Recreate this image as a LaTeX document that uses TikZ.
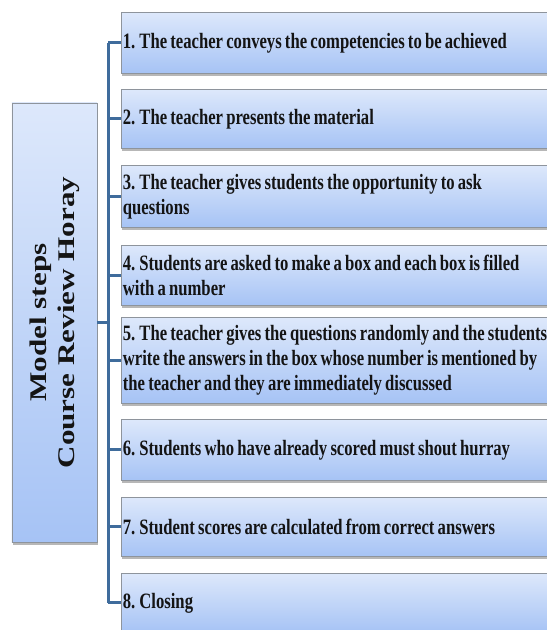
\documentclass[tikz,border=0pt]{standalone}
\usepackage{fontspec}
\setmainfont{Liberation Serif}
\newfontfamily\boxfont[FakeStretch=0.76]{Liberation Serif}
\newfontfamily\sidefont[FakeStretch=1.3]{Liberation Serif}
\newcommand\boxsetup{\boxfont\bfseries\fontsize{22}{25}\selectfont
  \fontdimen2\font=3.2bp\relax
  \fontdimen3\font=1bp\relax
  \fontdimen4\font=0.5bp\relax
  \fontdimen7\font=0.8bp\relax
  \spaceskip=3.2bp plus 1bp minus 0.5bp\relax
  \xspaceskip=4bp\relax
  \hyphenpenalty=10000\relax}
\usetikzlibrary{shadows}
\definecolor{boxtop}{HTML}{DDE8FB}
\definecolor{boxbot}{HTML}{A6C3F5}
\definecolor{boxline}{HTML}{8E949C}
\definecolor{trunkc}{HTML}{3F6C9C}
\definecolor{txt}{HTML}{141414}
\tikzset{
  shade box/.style={draw=boxline, line width=0.8bp, top color=boxtop, bottom color=boxbot,
    drop shadow={shadow xshift=1bp, shadow yshift=-3bp, opacity=0.4, fill=black!70}},
  stepbox/.style={shade box, anchor=north west, text width=480bp, align=left,
    inner xsep=1.5bp, inner ysep=0pt, text=txt, font=\boxsetup,
    execute at begin node=\boxsetup},
  sidebox/.style={shade box, minimum width=85bp, minimum height=439bp, inner sep=0pt, text=txt,
    font=\sidefont\bfseries\fontsize{24}{28}\selectfont},
  conn/.style={draw=trunkc, line width=3bp},
}
\begin{document}
\begin{tikzpicture}[x=1bp,y=-1bp]
\useasboundingbox (0,0) rectangle (547,630);
\clip (0,0) rectangle (547,630);
\fill[white] (0,0) rectangle (547,630);
\node[sidebox] (L) at (54.5,322.5) {\rotatebox{90}{\begin{tabular}{@{}c@{}}Model steps\\Course Review Horay\end{tabular}}};
\node[stepbox, minimum height=61bp] (b1) at (121,12) {1. The teacher conveys the competencies to be achieved};
\node[stepbox, minimum height=59bp] (b2) at (121,89) {2. The teacher presents the material};
\node[stepbox, minimum height=62bp] (b3) at (121,165) {3. The teacher gives students the opportunity to ask\\questions};
\node[stepbox, minimum height=60bp] (b4) at (121,245) {4. Students are asked to make a box and each box is filled\\with a number};
\node[stepbox, minimum height=86bp] (b5) at (121,317) {5. The teacher gives the questions randomly and the students\\write the answers in the box whose number is mentioned by\\the teacher and they are immediately discussed};
\node[stepbox, minimum height=61bp] (b6) at (121,419) {6. Students who have already scored must shout hurray};
\node[stepbox, minimum height=59bp] (b7) at (121,497) {7. Student scores are calculated from correct answers};
\node[stepbox, minimum height=59bp] (b8) at (121,573) {8. Closing};
\coordinate (t) at (108,0);
\draw[conn] (b1.west -| t) -- (b8.west -| t);
\foreach \b in {b1,b2,b3,b4,b5,b6,b7,b8} \draw[conn] (\b.west -| t) -- (\b.west);
\draw[conn] (L.east) -- (L.east -| t);
\end{tikzpicture}
\end{document}
